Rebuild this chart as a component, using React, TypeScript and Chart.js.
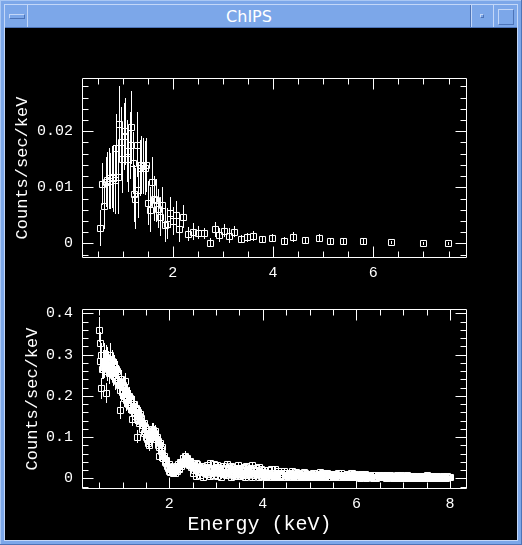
import React, { useEffect, useRef } from "react";
import { Chart, registerables } from "chart.js";

Chart.register(...registerables);

// ---------- top panel (grouped spectrum) ----------
const topEnergy = [
  0.54, 0.58, 0.63, 0.66, 0.69, 0.72, 0.75, 0.78, 0.81, 0.84,
  0.87, 0.9, 0.93, 0.96, 0.99, 1.02, 1.05, 1.08, 1.11, 1.14,
  1.17, 1.2, 1.22, 1.25, 1.28, 1.31, 1.34, 1.37, 1.4, 1.44,
  1.47, 1.5, 1.54, 1.58, 1.62, 1.66, 1.7, 1.74, 1.79, 1.84,
  1.89, 1.95, 2.01, 2.07, 2.13, 2.21, 2.31, 2.41, 2.51, 2.62,
  2.74, 2.84, 2.93, 3.03, 3.12, 3.22, 3.36, 3.49, 3.6, 3.78,
  3.98, 4.22, 4.4, 4.63, 4.92, 5.13, 5.4, 5.8, 6.35, 6.99, 7.49,
];
const topRate = [
  0.0027, 0.0106, 0.0066, 0.011, 0.0113, 0.0116, 0.0112, 0.0118, 0.0116, 0.0113,
  0.017, 0.0118, 0.0213, 0.0181, 0.015, 0.0191, 0.02, 0.0165, 0.015, 0.0175,
  0.0207, 0.0143, 0.0089, 0.008, 0.0176, 0.0095, 0.0135, 0.014, 0.0138, 0.0135,
  0.014, 0.0072, 0.006, 0.011, 0.008, 0.0077, 0.0062, 0.0048, 0.0068, 0.0033,
  0.0035, 0.0055, 0.004, 0.005, 0.0025, 0.0048, 0.0017, 0.0021, 0.0019, 0.0018,
  0.0001, 0.0025, 0.0015, 0.0023, 0.0014, 0.0021, 0.0008, 0.0011, 0.0014, 0.0007,
  0.0009, 0.0005, 0.0012, 0.0006, 0.001, 0.0004, 0.0004, 0.0004, 0.0002, 0.0, 0.0,
];
const topError = [
  0.0032, 0.0038, 0.004, 0.0045, 0.005, 0.0055, 0.005, 0.0055, 0.006, 0.006,
  0.006, 0.0065, 0.0068, 0.0062, 0.006, 0.006, 0.006, 0.0055, 0.0058, 0.006,
  0.0065, 0.0055, 0.005, 0.0055, 0.0058, 0.005, 0.005, 0.0052, 0.005, 0.0048,
  0.0048, 0.004, 0.004, 0.0045, 0.004, 0.0038, 0.0035, 0.0035, 0.0032, 0.003,
  0.0028, 0.0028, 0.0025, 0.0025, 0.0022, 0.002, 0.0012, 0.0015, 0.0012, 0.001,
  0.0008, 0.0014, 0.0012, 0.0011, 0.0013, 0.001, 0.0007, 0.0008, 0.0009, 0.0006,
  0.0007, 0.0006, 0.0009, 0.0005, 0.0006, 0.0006, 0.0005, 0.0005, 0.0003, 0.0003, 0.0003,
];

// ---------- bottom panel (fine-binned spectrum, three interleaved sets) ----------
const bottomEnergy = [
  0.5, 0.525, 0.55, 0.575, 0.6, 0.625, 0.65, 0.675, 0.7, 0.725,
  0.75, 0.775, 0.8, 0.825, 0.85, 0.875, 0.9, 0.925, 0.95, 0.975,
  1.0, 1.025, 1.05, 1.075, 1.1, 1.125, 1.15, 1.175, 1.2, 1.225,
  1.25, 1.275, 1.3, 1.325, 1.35, 1.375, 1.4, 1.425, 1.45, 1.475,
  1.5, 1.525, 1.55, 1.575, 1.6, 1.625, 1.65, 1.675, 1.7, 1.725,
  1.75, 1.775, 1.8, 1.825, 1.85, 1.875, 1.9, 1.925, 1.95, 1.975,
  2.0, 2.025, 2.05, 2.075, 2.1, 2.125, 2.15, 2.175, 2.2, 2.225,
  2.25, 2.275, 2.3, 2.325, 2.35, 2.375, 2.4, 2.425, 2.45, 2.475,
  2.5, 2.55, 2.6, 2.65, 2.7, 2.75, 2.8, 2.85, 2.9, 2.95,
  3.0, 3.05, 3.1, 3.15, 3.2, 3.25, 3.3, 3.35, 3.4, 3.45,
  3.5, 3.55, 3.6, 3.65, 3.7, 3.75, 3.8, 3.85, 3.9, 3.95,
  4.0, 4.05, 4.1, 4.15, 4.2, 4.25, 4.3, 4.35, 4.4, 4.45,
  4.5, 4.55, 4.6, 4.65, 4.7, 4.75, 4.8, 4.85, 4.9, 4.95,
  5.0, 5.05, 5.1, 5.15, 5.2, 5.25, 5.3, 5.35, 5.4, 5.45,
  5.5, 5.55, 5.6, 5.65, 5.7, 5.75, 5.8, 5.85, 5.9, 5.95,
  6.0, 6.05, 6.1, 6.15, 6.2, 6.25, 6.3, 6.35, 6.4, 6.45,
  6.5, 6.55, 6.6, 6.65, 6.7, 6.75, 6.8, 6.85, 6.9, 6.95,
  7.0, 7.05, 7.1, 7.15, 7.2, 7.25, 7.3, 7.35, 7.4, 7.45,
  7.5, 7.55, 7.6, 7.65, 7.7, 7.75, 7.8, 7.85, 7.9, 7.95,
  8.0,
];
const bottomRate = [
  0.36, 0.327, 0.218, 0.27, 0.3, 0.285, 0.206, 0.29, 0.275, 0.3,
  0.265, 0.285, 0.255, 0.27, 0.245, 0.26, 0.24, 0.225, 0.166, 0.232,
  0.215, 0.2, 0.235, 0.19, 0.205, 0.18, 0.195, 0.17, 0.144, 0.175,
  0.16, 0.165, 0.101, 0.16, 0.15, 0.155, 0.14, 0.13, 0.135, 0.115,
  0.12, 0.095, 0.085, 0.09, 0.1, 0.115, 0.118, 0.11, 0.105, 0.095,
  0.09, 0.055, 0.085, 0.065, 0.06, 0.05, 0.045, 0.038, 0.03, 0.025,
  0.018, 0.015, 0.02, 0.013, 0.018, 0.022, 0.02, 0.028, 0.025, 0.035,
  0.03, 0.04, 0.048, 0.055, 0.05, 0.045, 0.04, 0.035, 0.042, 0.03,
  0.03, 0.025, 0.035, 0.022, 0.03, 0.018, 0.032, 0.026, 0.02, 0.034,
  0.024, 0.028, 0.016, 0.03, 0.022, 0.026, 0.018, 0.028, 0.02, 0.024,
  0.014, 0.026, 0.02, 0.03, 0.016, 0.022, 0.018, 0.026, 0.014, 0.022,
  0.016, 0.006, 0.02, 0.004, 0.012, 0.022, 0.006, 0.014, 0.003, 0.018,
  0.008, 0.004, 0.012, 0.006, 0.016, 0.003, 0.01, 0.005, 0.013, 0.004,
  0.008, 0.003, 0.012, 0.006, 0.002, 0.01, 0.005, 0.014, 0.004, 0.007,
  0.003, 0.009, 0.012, 0.004, 0.006, 0.002, 0.01, 0.004, 0.013, 0.006,
  0.003, 0.007, 0.011, 0.002, 0.008, 0.003, 0.005, 0.001, 0.009, 0.003,
  0.005, 0.002, 0.006, 0.009, 0.003, 0.006, 0.001, 0.004, 0.002, 0.007,
  0.004, 0.001, 0.005, 0.002, 0.006, 0.002, 0.004, 0.001, 0.003, 0.006,
  0.008, 0.002, 0.004, 0.001, 0.003, 0.002, 0.004, 0.005, 0.001, 0.003,
  0.002,
];
const bottomError = [
  0.03, 0.028, 0.025, 0.03, 0.028, 0.027, 0.024, 0.028, 0.027, 0.028,
  0.026, 0.027, 0.025, 0.025, 0.024, 0.025, 0.024, 0.023, 0.022, 0.02,
  0.023, 0.022, 0.021, 0.026, 0.02, 0.021, 0.019, 0.02, 0.018, 0.019,
  0.018, 0.018, 0.016, 0.018, 0.017, 0.017, 0.016, 0.015, 0.016, 0.015,
  0.015, 0.014, 0.013, 0.013, 0.014, 0.015, 0.015, 0.014, 0.014, 0.013,
  0.013, 0.012, 0.013, 0.012, 0.012, 0.011, 0.011, 0.01, 0.01, 0.009,
  0.009, 0.008, 0.008, 0.008, 0.008, 0.008, 0.008, 0.009, 0.009, 0.009,
  0.01, 0.01, 0.011, 0.011, 0.01, 0.01, 0.01, 0.009, 0.01, 0.009,
  0.008, 0.007, 0.009, 0.007, 0.008, 0.006, 0.009, 0.008, 0.007, 0.009,
  0.007, 0.008, 0.006, 0.008, 0.007, 0.008, 0.006, 0.008, 0.007, 0.007,
  0.006, 0.008, 0.007, 0.008, 0.006, 0.007, 0.006, 0.008, 0.006, 0.007,
  0.007, 0.006, 0.007, 0.005, 0.006, 0.008, 0.005, 0.006, 0.005, 0.007,
  0.006, 0.005, 0.006, 0.005, 0.007, 0.005, 0.006, 0.005, 0.007, 0.005,
  0.006, 0.005, 0.006, 0.005, 0.004, 0.006, 0.005, 0.006, 0.005, 0.005,
  0.004, 0.005, 0.006, 0.005, 0.005, 0.004, 0.005, 0.004, 0.006, 0.005,
  0.004, 0.005, 0.006, 0.004, 0.005, 0.004, 0.004, 0.004, 0.005, 0.004,
  0.004, 0.003, 0.004, 0.005, 0.004, 0.004, 0.003, 0.004, 0.003, 0.004,
  0.004, 0.003, 0.004, 0.003, 0.004, 0.003, 0.004, 0.003, 0.003, 0.004,
  0.005, 0.003, 0.004, 0.003, 0.003, 0.003, 0.003, 0.004, 0.003, 0.003,
  0.003,
];
const bottomEnergy2 = [
  0.5125, 0.5375, 0.5625, 0.5875, 0.6125, 0.6375, 0.6625, 0.6875, 0.7125, 0.7375,
  0.7625, 0.7875, 0.8125, 0.8375, 0.8625, 0.8875, 0.9125, 0.9375, 0.9625, 0.9875,
  1.0125, 1.0375, 1.0625, 1.0875, 1.1125, 1.1375, 1.1625, 1.1875, 1.2125, 1.2375,
  1.2625, 1.2875, 1.3125, 1.3375, 1.3625, 1.3875, 1.4125, 1.4375, 1.4625, 1.4875,
  1.5125, 1.5375, 1.5625, 1.5875, 1.6125, 1.6375, 1.6625, 1.6875, 1.7125, 1.7375,
  1.7625, 1.7875, 1.8125, 1.8375, 1.8625, 1.8875, 1.9125, 1.9375, 1.9625, 1.9875,
  2.0125, 2.0375, 2.0625, 2.0875, 2.1125, 2.1375, 2.1625, 2.1875, 2.2125, 2.2375,
  2.2625, 2.2875, 2.3125, 2.3375, 2.3625, 2.3875, 2.4125, 2.4375, 2.4625, 2.4875,
  2.525, 2.575, 2.625, 2.675, 2.725, 2.775, 2.825, 2.875, 2.925, 2.975,
  3.025, 3.075, 3.125, 3.175, 3.225, 3.275, 3.325, 3.375, 3.425, 3.475,
  3.525, 3.575, 3.625, 3.675, 3.725, 3.775, 3.825, 3.875, 3.925, 3.975,
  4.025, 4.075, 4.125, 4.175, 4.225, 4.275, 4.325, 4.375, 4.425, 4.475,
  4.525, 4.575, 4.625, 4.675, 4.725, 4.775, 4.825, 4.875, 4.925, 4.975,
  5.025, 5.075, 5.125, 5.175, 5.225, 5.275, 5.325, 5.375, 5.425, 5.475,
  5.525, 5.575, 5.625, 5.675, 5.725, 5.775, 5.825, 5.875, 5.925, 5.975,
  6.025, 6.075, 6.125, 6.175, 6.225, 6.275, 6.325, 6.375, 6.425, 6.475,
  6.525, 6.575, 6.625, 6.675, 6.725, 6.775, 6.825, 6.875, 6.925, 6.975,
  7.025, 7.075, 7.125, 7.175, 7.225, 7.275, 7.325, 7.375, 7.425, 7.475,
  7.525, 7.575, 7.625, 7.675, 7.725, 7.775, 7.825, 7.875, 7.925, 7.975,
];
const bottomRate2 = [
  0.285, 0.3, 0.265, 0.28, 0.27, 0.295, 0.26, 0.28, 0.255, 0.285,
  0.27, 0.25, 0.275, 0.24, 0.265, 0.235, 0.25, 0.215, 0.24, 0.21,
  0.225, 0.195, 0.215, 0.2, 0.185, 0.2, 0.175, 0.185, 0.165, 0.18,
  0.15, 0.17, 0.145, 0.15, 0.135, 0.145, 0.12, 0.13, 0.11, 0.125,
  0.1, 0.105, 0.08, 0.1, 0.108, 0.12, 0.105, 0.115, 0.095, 0.1,
  0.08, 0.075, 0.07, 0.075, 0.05, 0.055, 0.04, 0.045, 0.028, 0.035,
  0.022, 0.028, 0.015, 0.025, 0.012, 0.03, 0.018, 0.035, 0.022, 0.04,
  0.035, 0.05, 0.042, 0.048, 0.038, 0.05, 0.032, 0.04, 0.028, 0.036,
  0.02, 0.038, 0.024, 0.03, 0.015, 0.028, 0.022, 0.036, 0.016, 0.026,
  0.032, 0.018, 0.026, 0.012, 0.034, 0.02, 0.03, 0.014, 0.026, 0.032,
  0.022, 0.01, 0.028, 0.018, 0.024, 0.032, 0.012, 0.02, 0.028, 0.016,
  0.02, 0.004, 0.012, 0.022, 0.005, 0.01, 0.018, 0.003, 0.014, 0.007,
  0.013, 0.004, 0.017, 0.006, 0.009, 0.012, 0.002, 0.015, 0.005, 0.01,
  0.004, 0.013, 0.006, 0.01, 0.015, 0.002, 0.008, 0.012, 0.003, 0.009,
  0.011, 0.002, 0.007, 0.012, 0.003, 0.009, 0.005, 0.013, 0.002, 0.008,
  0.008, 0.001, 0.005, 0.01, 0.002, 0.006, 0.009, 0.003, 0.001, 0.007,
  0.003, 0.008, 0.001, 0.004, 0.009, 0.001, 0.005, 0.007, 0.003, 0.001,
  0.005, 0.007, 0.001, 0.005, 0.001, 0.006, 0.002, 0.005, 0.004, 0.001,
  0.001, 0.005, 0.002, 0.004, 0.006, 0.003, 0.001, 0.002, 0.005, 0.003,
];
const bottomEnergy3 = [
  2.5125, 2.5625, 2.6125, 2.6625, 2.7125, 2.7625, 2.8125, 2.8625, 2.9125, 2.9625,
  3.0125, 3.0625, 3.1125, 3.1625, 3.2125, 3.2625, 3.3125, 3.3625, 3.4125, 3.4625,
  3.5125, 3.5625, 3.6125, 3.6625, 3.7125, 3.7625, 3.8125, 3.8625, 3.9125, 3.9625,
  4.0125, 4.0625, 4.1125, 4.1625, 4.2125, 4.2625, 4.3125, 4.3625, 4.4125, 4.4625,
  4.5125, 4.5625, 4.6125, 4.6625, 4.7125, 4.7625, 4.8125, 4.8625, 4.9125, 4.9625,
  5.0125, 5.0625, 5.1125, 5.1625, 5.2125, 5.2625, 5.3125, 5.3625, 5.4125, 5.4625,
  5.5125, 5.5625, 5.6125, 5.6625, 5.7125, 5.7625, 5.8125, 5.8625, 5.9125, 5.9625,
  6.0125, 6.0625, 6.1125, 6.1625, 6.2125, 6.2625, 6.3125, 6.3625, 6.4125, 6.4625,
  6.5125, 6.5625, 6.6125, 6.6625, 6.7125, 6.7625, 6.8125, 6.8625, 6.9125, 6.9625,
  7.0125, 7.0625, 7.1125, 7.1625, 7.2125, 7.2625, 7.3125, 7.3625, 7.4125, 7.4625,
  7.5125, 7.5625, 7.6125, 7.6625, 7.7125, 7.7625, 7.8125, 7.8625, 7.9125, 7.9625,
];
const bottomRate3 = [
  0.012, 0.006, 0.016, 0.008, 0.004, 0.014, 0.01, 0.005, 0.012, 0.008,
  0.006, 0.012, 0.004, 0.01, 0.007, 0.013, 0.003, 0.009, 0.006, 0.011,
  0.005, 0.009, 0.003, 0.008, 0.011, 0.004, 0.007, 0.01, 0.003, 0.006,
  0.008, 0.014, 0.004, 0.011, 0.007, 0.002, 0.012, 0.005, 0.009, 0.003,
  0.006, 0.011, 0.002, 0.008, 0.004, 0.01, 0.007, 0.003, 0.009, 0.006,
  0.011, 0.005, 0.002, 0.009, 0.006, 0.012, 0.003, 0.007, 0.01, 0.002,
  0.006, 0.01, 0.003, 0.007, 0.009, 0.004, 0.002, 0.008, 0.005, 0.01,
  0.005, 0.002, 0.007, 0.004, 0.001, 0.006, 0.003, 0.008, 0.002, 0.005,
  0.002, 0.005, 0.003, 0.001, 0.006, 0.004, 0.002, 0.001, 0.005, 0.003,
  0.002, 0.004, 0.003, 0.001, 0.005, 0.003, 0.001, 0.003, 0.002, 0.004,
  0.003, 0.001, 0.005, 0.002, 0.001, 0.004, 0.002, 0.003, 0.001, 0.002,
];
const bottomError3 = bottomError.slice(80);

// ---------- axes ----------
const topXRange = [0.19, 7.868];
const topYRange = [-0.0026, 0.0295];
const bottomXRange = [0.134, 8.363];
const bottomYRange = [-0.026, 0.4104];
const xMinorStep = 0.5;
const xMajorStep = 2;
const topYMinorStep = 0.002;
const topYMajorStep = 0.01;
const bottomYMinorStep = 0.02;
const bottomYMajorStep = 0.1;
const yTitle = "Counts/sec/keV";
const xTitle = "Energy (keV)";

const MONO = "'Liberation Mono', 'DejaVu Sans Mono', monospace";

function isMajor(v: number, step: number) {
  const r = v / step;
  return Math.abs(r - Math.round(r)) < 1e-6;
}
function fmt(v: number) {
  return String(parseFloat(v.toFixed(4)));
}

function chipsPlugin(errors: number[][], xMajor: number, yMajor: number, bottomTitle?: string) {
  return {
    id: "chipsFrame",
    beforeDatasetsDraw(chart: any) {
      const { ctx, chartArea: a, scales } = chart;
      const xs = scales.x;
      const ys = scales.y;
      ctx.save();
      ctx.beginPath();
      ctx.rect(a.left, a.top, a.right - a.left, a.bottom - a.top);
      ctx.clip();
      ctx.strokeStyle = "#ffffff";
      ctx.lineWidth = 1;
      chart.data.datasets.forEach((ds: any, d: number) => {
        const meta = chart.getDatasetMeta(d);
        meta.data.forEach((el: any) => {
          el.x = Math.round(el.x) + 0.5;
          el.y = Math.round(el.y) + 0.5;
        });
        const errs = errors[d] || [];
        ctx.beginPath();
        (ds.data as { x: number; y: number }[]).forEach((p, i) => {
          const e = errs[i] ?? 0;
          const px = Math.round(xs.getPixelForValue(p.x)) + 0.5;
          ctx.moveTo(px, Math.round(ys.getPixelForValue(p.y + e)));
          ctx.lineTo(px, Math.round(ys.getPixelForValue(p.y - e)));
        });
        ctx.stroke();
      });
      ctx.restore();
    },
    afterDraw(chart: any) {
      const { ctx, chartArea: a, scales } = chart;
      const xs = scales.x;
      const ys = scales.y;
      const L = a.left + 0.5;
      const R = a.right - 0.5;
      const T = a.top + 0.5;
      const B = a.bottom - 0.5;
      ctx.save();
      ctx.strokeStyle = "#ffffff";
      ctx.lineWidth = 1;
      ctx.beginPath();
      ctx.rect(L, T, R - L, B - T);
      xs.ticks.forEach((t: any) => {
        const len = isMajor(t.value, xMajor) ? 11 : 6;
        const px = Math.round(xs.getPixelForValue(t.value)) + 0.5;
        ctx.moveTo(px, B);
        ctx.lineTo(px, B - len);
        ctx.moveTo(px, T);
        ctx.lineTo(px, T + len);
      });
      ys.ticks.forEach((t: any) => {
        const len = isMajor(t.value, yMajor) ? 11 : 6;
        const py = Math.round(ys.getPixelForValue(t.value)) + 0.5;
        ctx.moveTo(L, py);
        ctx.lineTo(L + len, py);
        ctx.moveTo(R, py);
        ctx.lineTo(R - len, py);
      });
      ctx.stroke();
      if (bottomTitle) {
        ctx.fillStyle = "#ffffff";
        ctx.font = `20px ${MONO}`;
        ctx.textAlign = "center";
        ctx.textBaseline = "middle";
        ctx.fillText(bottomTitle, (a.left + a.right) / 2 - 15, a.bottom + 36);
      }
      ctx.restore();
    },
  };
}

function makeDataset(energy: number[], rate: number[]) {
  return {
    data: energy.map((e, i) => ({ x: e, y: rate[i] })),
    pointStyle: "rect",
    pointRadius: 4.2427,
    pointHoverRadius: 4.2427,
    borderColor: "#ffffff",
    backgroundColor: "rgba(0,0,0,0)",
    borderWidth: 1,
  };
}

function makeConfig(
  datasets: any[],
  errors: number[][],
  xr: number[],
  yr: number[],
  yMinor: number,
  yMajor: number,
  padTop: number,
  xHeight: number,
  titlePad: number,
  bottomTitle?: string
): any {
  return {
    type: "scatter",
    data: { datasets },
    options: {
      responsive: false,
      animation: false,
      events: [],
      layout: { padding: { left: 0, top: padTop, right: 50, bottom: 0 } },
      plugins: { legend: { display: false }, tooltip: { enabled: false } },
      scales: {
        x: {
          type: "linear",
          position: "bottom",
          min: xr[0],
          max: xr[1],
          grid: { display: false, drawTicks: false },
          border: { display: false },
          ticks: {
            stepSize: xMinorStep,
            autoSkip: false,
            maxRotation: 0,
            minRotation: 0,
            includeBounds: false,
            padding: 6,
            color: "#ffffff",
            font: { family: MONO, size: 15 },
            callback: (v: number) => (isMajor(v, xMajorStep) ? fmt(v) : ""),
          },
          afterFit: (s: any) => {
            s.height = xHeight;
          },
        },
        y: {
          type: "linear",
          position: "left",
          min: yr[0],
          max: yr[1],
          grid: { display: false, drawTicks: false },
          border: { display: false },
          ticks: {
            stepSize: yMinor,
            autoSkip: false,
            includeBounds: false,
            padding: 9,
            color: "#ffffff",
            font: { family: MONO, size: 15 },
            callback: (v: number) => (isMajor(v, yMajor) ? fmt(v) : ""),
          },
          title: {
            display: true,
            text: yTitle,
            color: "#ffffff",
            font: { family: MONO, size: 17 },
            padding: { top: titlePad, bottom: 0 },
          },
          afterFit: (s: any) => {
            s.width = 77;
          },
        },
      },
    },
    plugins: [chipsPlugin(errors, xMajorStep, yMajor, bottomTitle)],
  };
}

const abs = (o: React.CSSProperties): React.CSSProperties => ({ position: "absolute", ...o });

export default function App() {
  const topRef = useRef<HTMLCanvasElement | null>(null);
  const bottomRef = useRef<HTMLCanvasElement | null>(null);

  useEffect(() => {
    if (!topRef.current || !bottomRef.current) return;
    const c1 = new Chart(
      topRef.current,
      makeConfig(
        [makeDataset(topEnergy, topRate)],
        [topError],
        topXRange,
        topYRange,
        topYMinorStep,
        topYMajorStep,
        50,
        32,
        7
      )
    );
    const c2 = new Chart(
      bottomRef.current,
      makeConfig(
        [
          makeDataset(bottomEnergy, bottomRate),
          makeDataset(bottomEnergy2, bottomRate2),
          makeDataset(bottomEnergy3, bottomRate3),
        ],
        [bottomError, bottomError, bottomError3],
        bottomXRange,
        bottomYRange,
        bottomYMinorStep,
        bottomYMajorStep,
        19,
        51,
        17,
        xTitle
      )
    );
    return () => {
      c1.destroy();
      c2.destroy();
    };
  }, []);

  const light = "#c3d7f8";
  const dark = "#4d74b8";

  return (
    <div style={{ position: "fixed", left: 0, top: 0, width: 522, height: 545, background: "#7ca7e9", overflow: "hidden" }}>
      <div style={abs({ left: 0, top: 0, width: 522, height: 1, background: "#a9c7f4" })} />
      <div style={abs({ left: 0, top: 0, width: 1, height: 545, background: "#a9c7f4" })} />
      <div style={abs({ left: 521, top: 0, width: 1, height: 545, background: dark })} />
      <div style={abs({ left: 0, top: 544, width: 522, height: 1, background: dark })} />
      <div style={abs({ left: 4, top: 4, width: 514, height: 1, background: light })} />
      <div style={abs({ left: 4, top: 4, width: 1, height: 537, background: light })} />
      <div style={abs({ left: 517, top: 4, width: 1, height: 537, background: light })} />
      <div style={abs({ left: 4, top: 540, width: 514, height: 1, background: light })} />
      <div style={abs({ left: 27, top: 5, width: 1, height: 23, background: light })} />
      <div style={abs({ left: 470, top: 5, width: 1, height: 23, background: dark })} />
      <div style={abs({ left: 471, top: 5, width: 1, height: 23, background: light })} />
      <div style={abs({ left: 493, top: 5, width: 1, height: 23, background: light })} />
      <div style={abs({ left: 5, top: 27, width: 512, height: 1, background: dark })} />
      <div style={abs({ left: 9, top: 14, width: 14, height: 3, border: `1px solid ${light}`, borderRightColor: dark, borderBottomColor: dark })} />
      <div style={abs({ left: 480, top: 14, width: 2, height: 2, border: `1px solid ${light}`, borderRightColor: dark, borderBottomColor: dark })} />
      <div style={abs({ left: 498, top: 9, width: 14, height: 14, border: `1px solid ${light}`, borderRightColor: dark, borderBottomColor: dark })} />
      <div
        style={abs({
          left: 28,
          top: 6,
          width: 442,
          height: 22,
          lineHeight: "22px",
          textAlign: "center",
          color: "#ffffff",
          fontFamily: "'DejaVu Sans', sans-serif",
          fontSize: 16,
        })}
      >
        ChIPS
      </div>
      <div style={abs({ left: 5, top: 28, width: 512, height: 512, background: "#000000" })} />
      <canvas ref={topRef} width={512} height={262} style={abs({ left: 5, top: 28, width: 512, height: 262 })} />
      <canvas ref={bottomRef} width={512} height={250} style={abs({ left: 5, top: 290, width: 512, height: 250 })} />
    </div>
  );
}
